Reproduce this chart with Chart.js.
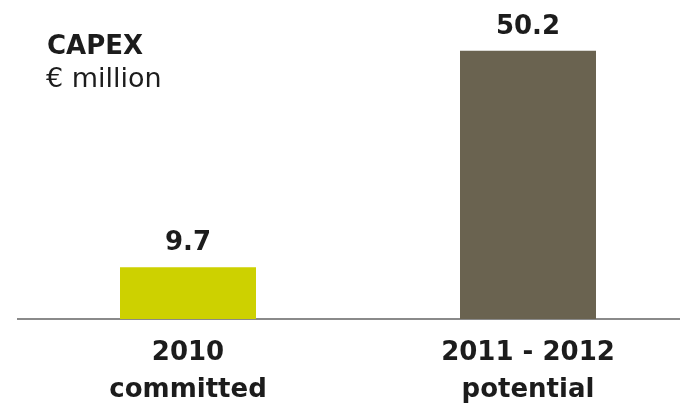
<!DOCTYPE html>
<html>
<head>
<meta charset="utf-8">
<script src="https://cdn.jsdelivr.net/npm/chart.js@4/dist/chart.umd.min.js"></script>
<style>
  html, body { margin: 0; padding: 0; background: #ffffff; overflow: hidden; }
  #wrap { width: 680px; height: 404px; overflow: hidden; }
  canvas { display: block; }
</style>
</head>
<body>
<div id="wrap"><canvas id="chart" width="700" height="404"></canvas></div>
<script>
// CAPEX, € million
const categories = [["2010", "committed"], ["2011 - 2012", "potential"]];
const capexValues = [9.7, 50.2];
const barColors = ["#cdd100", "#6a6350"];
const valueLabels = ["9.7", "50.2"];
const titleLines = ["CAPEX", "€ million"];

const FONT = "'DejaVu Sans', Verdana, sans-serif";
const TEXT_COLOR = "#1c1c1c";

// Value labels above each bar
const valueLabelPlugin = {
  id: "valueLabels",
  afterDatasetsDraw(chart) {
    const ctx = chart.ctx;
    const meta = chart.getDatasetMeta(0);
    ctx.save();
    ctx.font = "bold 26px " + FONT;
    ctx.fillStyle = TEXT_COLOR;
    ctx.textAlign = "center";
    ctx.textBaseline = "alphabetic";
    meta.data.forEach((bar, i) => {
      ctx.fillText(valueLabels[i], bar.x, bar.y - 17);
    });
    ctx.restore();
  }
};

// Heading in the upper left corner
const headingPlugin = {
  id: "heading",
  afterDraw(chart) {
    const ctx = chart.ctx;
    ctx.save();
    ctx.fillStyle = TEXT_COLOR;
    ctx.textAlign = "left";
    ctx.textBaseline = "alphabetic";
    ctx.font = "bold 26px " + FONT;
    ctx.fillText(titleLines[0], 47, 54);
    ctx.font = "27px " + FONT;
    ctx.fillText(titleLines[1], 46, 87);
    ctx.restore();
  }
};

new Chart(document.getElementById("chart"), {
  type: "bar",
  data: {
    labels: categories,
    datasets: [{
      data: capexValues,
      backgroundColor: barColors,
      borderWidth: 0,
      barPercentage: 0.4,
      categoryPercentage: 1.0
    }]
  },
  options: {
    responsive: false,
    animation: false,
    layout: { padding: { left: 18, right: 2, top: 25, bottom: 0 } },
    plugins: {
      legend: { display: false },
      tooltip: { enabled: false }
    },
    scales: {
      x: {
        grid: { display: false, drawTicks: false },
        border: { display: true, color: "#8a8a8a", width: 2 },
        ticks: {
          padding: 16,
          color: TEXT_COLOR,
          font: { family: FONT, size: 26, weight: "bold", lineHeight: 1.42 },
          maxRotation: 0,
          autoSkip: false
        },
        afterFit(scale) { scale.height = 85; }
      },
      y: {
        display: false,
        min: 0,
        max: 55
      }
    }
  },
  plugins: [valueLabelPlugin, headingPlugin]
});
</script>
</body>
</html>
